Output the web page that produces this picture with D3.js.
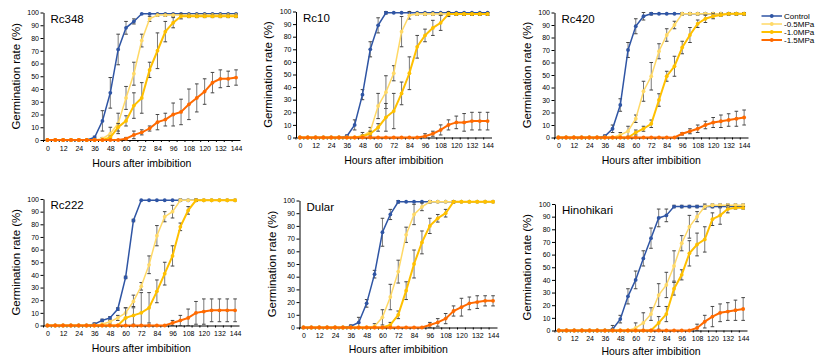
<!DOCTYPE html>
<html>
<head>
<meta charset="utf-8">
<script src="https://cdn.jsdelivr.net/npm/d3@7"></script>
<style>
  body { margin: 0; background: #fff; }
  svg { display: block; font-family: "Liberation Sans", Arial, sans-serif; }
  .tick text { font-size: 7px; fill: #000; }
  .axis path, .axis line { stroke: #000; }
</style>
</head>
<body>
<svg id="chart" width="817" height="357"></svg>
<script>
// germination time course, 6 rice varieties x 4 PEG treatments

const hours = [0, 6, 12, 18, 24, 30, 36, 42, 48, 54, 60, 66, 72, 78, 84, 90, 96, 102, 108, 114, 120, 126, 132, 138, 144];
const hourLabels = [0, 12, 24, 36, 48, 60, 72, 84, 96, 108, 120, 132, 144];
const yTicks = [0, 10, 20, 30, 40, 50, 60, 70, 80, 90, 100];
const seriesNames = ["Control", "-0.5MPa", "-1.0MPa", "-1.5MPa"];
const varieties = ["Rc348", "Rc10", "Rc420", "Rc222", "Dular", "Hinohikari"];

// means: [control, -0.5, -1.0, -1.5]
const rc348 = [
  [0,0,0,0,0,0,2,15,37,71,88,93,99,99,99,99,99,99,99,99,99,99,99,99,99],
  [0,0,0,0,0,0,0,1,5,13,33,52,78,95,98,98,98,98,98,98,98,98,98,98,98],
  [0,0,0,0,0,0,0,0,2,10,15,27,33,55,70,85,92,97,97,97,97,97,97,97,97],
  [0,0,0,0,0,0,0,0,0,0,1,4,6,9,14,16,20,22,28,33,38,45,48,48,49]
];
const rc348Err = [
  [0,0,0,0,0,0,1,8,12,12,5,2,0,0,0,0,0,0,0,0,0,0,0,0,0],
  [0,0,0,0,0,0,0,1,5,8,9,9,5,2,1,1,1,1,1,1,1,1,1,1,1],
  [0,0,0,0,0,0,0,0,1,3,4,10,12,6,14,8,4,2,1,1,1,1,1,1,1],
  [0,0,0,0,0,0,0,0,0,0,1,3,2,2,6,5,9,10,12,11,10,8,7,6,6]
];
const rc10 = [
  [0,0,0,0,0,0,1,10,34,70,89,99,99,99,99,99,99,99,99,99,99,99,99,99,99],
  [0,0,0,0,0,0,0,0,1,5,25,36,51,84,97,98,98,98,98,98,98,98,98,98,98],
  [0,0,0,0,0,0,0,0,1,3,8,16,21,35,51,72,81,87,91,98,98,98,98,98,98],
  [0,0,0,0,0,0,0,0,0,0,0,0,0,0,0,0,1,3,6,10,12,12,13,13,13]
];
const rc10Err = [
  [0,0,0,0,0,0,1,4,4,6,6,1,0,0,0,0,0,0,0,0,0,0,0,0,0],
  [0,0,0,0,0,0,0,0,3,3,10,13,6,12,3,1,1,1,1,1,1,1,1,1,1],
  [0,0,0,0,0,0,0,0,1,2,3,11,14,9,13,9,5,6,6,2,1,1,1,1,1],
  [0,0,0,0,0,0,0,0,0,0,0,0,0,0,0,0,2,2,4,4,5,7,7,7,7]
];
const rc420 = [
  [0,0,0,0,0,0,1,7,26,70,89,97,99,99,99,99,99,99,99,99,99,99,99,99,99],
  [0,0,0,0,0,0,0,0,2,5,15,37,49,69,82,90,99,99,99,99,99,99,99,99,99],
  [0,0,0,0,0,0,0,0,0,0,4,7,11,30,49,57,72,82,91,95,97,98,99,99,99],
  [0,0,0,0,0,0,0,0,0,0,0,0,0,0,0,0,3,5,7,10,12,13,14,15,16]
];
const rc420Err = [
  [0,0,0,0,0,0,1,3,5,6,6,3,1,0,0,0,0,0,0,0,0,0,0,0,0],
  [0,0,0,0,0,0,0,0,2,4,3,8,11,6,5,3,1,1,1,1,1,1,1,1,1],
  [0,0,0,0,0,0,0,0,0,0,2,2,3,5,4,8,5,6,3,3,2,1,1,1,1],
  [0,0,0,0,0,0,0,0,0,0,0,0,0,0,0,0,1,2,3,3,4,5,5,6,6]
];
const rc222 = [
  [0,0,0,0,0,0,1,4,6,13,38,83,99,99,99,99,99,99,99,99,99,99,99,99,99],
  [0,0,0,0,0,0,0,1,3,6,10,19,31,48,71,86,90,99,99,99,99,99,99,99,99],
  [0,0,0,0,0,0,0,0,0,0,6,8,10,14,27,41,55,78,91,99,99,99,99,99,99],
  [0,0,0,0,0,0,0,0,0,0,0,0,0,0,0,0,2,4,6,10,11,12,12,12,12]
];
const rc222Err = [
  [0,0,0,0,0,0,1,1,1,1,1,1,0,0,0,0,0,0,0,0,0,0,0,0,0],
  [0,0,0,0,0,0,0,0,1,2,4,5,3,7,8,4,5,1,0,0,0,0,0,0,0],
  [0,0,0,0,0,0,0,0,0,0,8,7,16,12,9,9,8,3,3,1,0,0,0,0,0],
  [0,0,0,0,0,0,0,0,0,0,0,0,0,0,0,0,2,4,7,9,10,9,9,9,9]
];
const dular = [
  [0,0,0,0,0,0,1,4,19,42,75,89,99,99,99,99,99,99,99,99,99,99,99,99,99],
  [0,0,0,0,0,0,0,0,0,1,8,24,44,73,89,95,99,99,99,99,99,99,99,99,99],
  [0,0,0,0,0,0,0,0,0,0,0,2,10,29,50,67,80,86,90,99,99,99,99,99,99],
  [0,0,0,0,0,0,0,0,0,0,0,0,0,0,0,0,2,4,7,13,16,19,20,21,21]
];
const dularErr = [
  [0,0,0,0,0,0,1,4,3,3,11,4,1,0,0,0,0,0,0,0,0,0,0,0,0],
  [0,0,0,0,0,0,0,0,0,2,6,10,9,6,8,3,1,0,0,0,0,0,0,0,0],
  [0,0,0,0,0,0,0,0,0,0,0,2,3,7,11,9,6,3,3,1,0,0,0,0,0],
  [0,0,0,0,0,0,0,0,0,0,0,0,0,0,0,0,2,3,4,4,7,5,5,4,4]
];
const hinohikari = [
  [0,0,0,0,0,0,0,1,9,27,40,57,73,89,91,98,98,98,98,98,98,98,98,98,98],
  [0,0,0,0,0,0,0,0,0,0,2,6,13,28,36,51,69,82,90,98,99,99,99,99,99],
  [0,0,0,0,0,0,0,0,0,0,0,0,0,6,13,33,44,61,68,72,88,91,96,97,97],
  [0,0,0,0,0,0,0,0,0,0,0,0,0,0,0,0,0,0,2,7,11,14,15,16,17]
];
const hinohikariErr = [
  [0,0,0,0,0,0,0,3,3,6,7,6,8,7,5,1,1,1,1,1,1,1,1,1,1],
  [0,0,0,0,0,0,0,0,0,0,4,8,5,9,10,12,6,9,4,2,1,1,1,1,1],
  [0,0,0,0,0,0,0,0,0,0,0,0,0,5,6,5,4,10,9,10,5,7,3,1,1],
  [0,0,0,0,0,0,0,0,0,0,0,0,0,0,0,0,0,0,3,5,8,7,7,8,9]
];

const means = [rc348, rc10, rc420, rc222, dular, hinohikari];
const errors = [rc348Err, rc10Err, rc420Err, rc222Err, dularErr, hinohikariErr];

const colors = ["#2f55a4", "#ffd966", "#ffc000", "#ff6a00"];
const widths = [1.5, 1.5, 2, 2];

const boxes = [
  { left: 43.5, right: 240, top: 12.5, bottom: 140, gap: 26.5 },
  { left: 296, right: 491.5, top: 11.5, bottom: 137.5, gap: 26.5 },
  { left: 554.5, right: 748, top: 12.5, bottom: 137.5, gap: 26.5 },
  { left: 43.5, right: 239, top: 199, bottom: 325.5, gap: 26 },
  { left: 299.5, right: 497, top: 200.5, bottom: 327.5, gap: 25.5 },
  { left: 555, right: 747, top: 204, bottom: 330.5, gap: 24.5 }
];

const svg = d3.select("#chart");

boxes.forEach((b, p) => {
  const x = d3.scalePoint().domain(hours).range([b.left, b.right]).padding(0.5);
  const y = d3.scaleLinear().domain([0, 100]).range([b.bottom, b.top]);
  const g = svg.append("g");

  g.append("g")
    .attr("class", "axis")
    .attr("transform", `translate(${b.left},0)`)
    .call(d3.axisLeft(y).tickValues(yTicks).tickSize(3).tickSizeOuter(0).tickPadding(1.5));

  const xAxis = g.append("g")
    .attr("class", "axis")
    .attr("transform", `translate(0,${b.bottom})`)
    .call(d3.axisBottom(x).tickValues(hourLabels).tickSize(0).tickSizeOuter(0).tickPadding(6));

  // small category ticks between points
  const step = x.step();
  xAxis.selectAll(".cat")
    .data(hours)
    .enter()
    .append("line")
    .attr("x1", (h) => x(h) - step / 2)
    .attr("x2", (h) => x(h) - step / 2)
    .attr("y1", 0)
    .attr("y2", 2)
    .attr("stroke", "#000");

  g.append("text")
    .attr("x", (b.left + b.right) / 2)
    .attr("y", b.bottom + b.gap)
    .attr("text-anchor", "middle")
    .attr("font-size", 10.5)
    .text("Hours after imbibition");

  g.append("text")
    .attr("transform", "rotate(-90)")
    .attr("x", -(b.top + b.bottom) / 2)
    .attr("y", b.left - 24)
    .attr("text-anchor", "middle")
    .attr("font-size", 11.5)
    .text("Germination rate (%)");

  g.append("text")
    .attr("x", b.left + 7)
    .attr("y", b.top + 10)
    .attr("font-size", 11.5)
    .text(varieties[p]);

  const line = d3.line().x((d, i) => x(hours[i])).y((d) => y(d));

  means[p].forEach((vals, s) => {
    const err = errors[p][s];
    const sg = g.append("g");

    const bars = sg.selectAll(".err")
      .data(vals.map((v, i) => ({ h: hours[i], v, e: err[i] })).filter((d) => d.e > 0))
      .enter()
      .append("g")
      .attr("stroke", "#7a7a7a")
      .attr("stroke-width", 1);
    bars.append("line")
      .attr("x1", (d) => x(d.h)).attr("x2", (d) => x(d.h))
      .attr("y1", (d) => y(Math.min(100, d.v + d.e)))
      .attr("y2", (d) => y(Math.max(0, d.v - d.e)));
    bars.append("line")
      .attr("x1", (d) => x(d.h) - 1.8).attr("x2", (d) => x(d.h) + 1.8)
      .attr("y1", (d) => y(Math.min(100, d.v + d.e)))
      .attr("y2", (d) => y(Math.min(100, d.v + d.e)))
      .attr("stroke", "#444");
    bars.append("line")
      .attr("x1", (d) => x(d.h) - 1.8).attr("x2", (d) => x(d.h) + 1.8)
      .attr("y1", (d) => y(Math.max(0, d.v - d.e)))
      .attr("y2", (d) => y(Math.max(0, d.v - d.e)))
      .attr("stroke", "#444");

    sg.append("path")
      .datum(vals)
      .attr("fill", "none")
      .attr("stroke", colors[s])
      .attr("stroke-width", widths[s])
      .attr("d", line);

    sg.selectAll(".pt")
      .data(vals)
      .enter()
      .append("circle")
      .attr("cx", (d, i) => x(hours[i]))
      .attr("cy", (d) => y(d))
      .attr("r", 1.9)
      .attr("fill", colors[s]);
  });
});

// legend
const legend = svg.append("g").attr("transform", "translate(761.5,16)");
seriesNames.forEach((name, s) => {
  const row = legend.append("g").attr("transform", `translate(0,${s * 8})`);
  row.append("line")
    .attr("x1", 0).attr("x2", 20.5)
    .attr("stroke", colors[s])
    .attr("stroke-width", widths[s]);
  row.append("circle").attr("cx", 10.25).attr("r", 1.9).attr("fill", colors[s]);
  row.append("text")
    .attr("x", 22.5)
    .attr("dy", "0.35em")
    .attr("font-size", 8)
    .text(name);
});
</script>
</body>
</html>
